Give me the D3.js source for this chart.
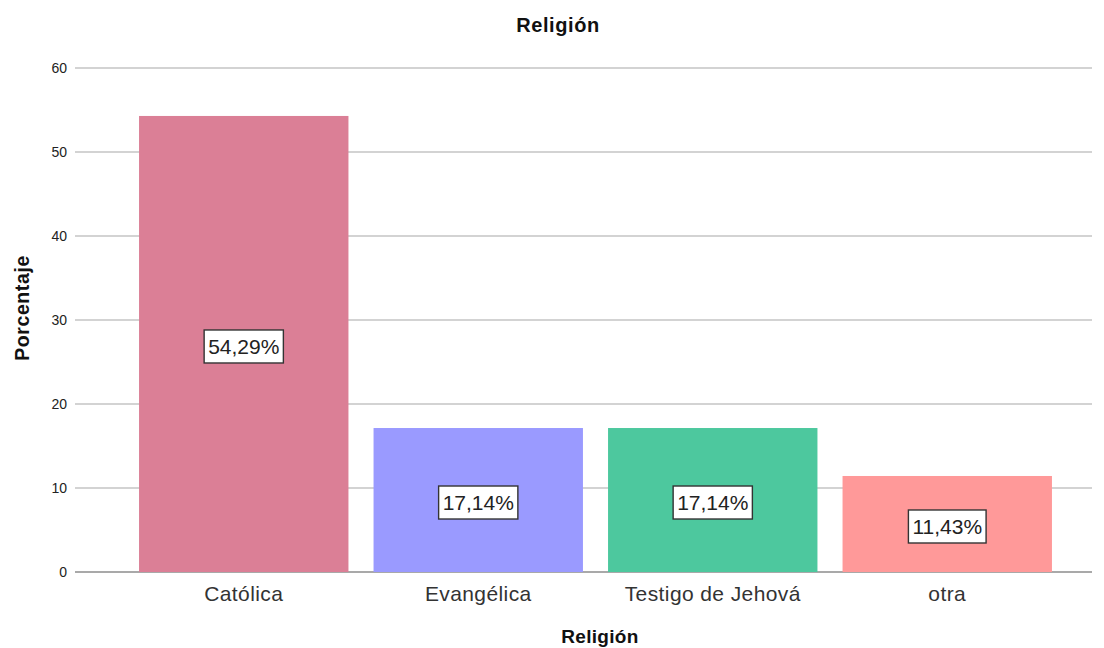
<!DOCTYPE html>
<html><head><meta charset="utf-8">
<script src="https://cdn.jsdelivr.net/npm/d3@7"></script>
<style>body{margin:0;background:#fff;}svg{display:block;font-family:Arial,"Liberation Sans",sans-serif;}</style>
</head><body><svg id="c" width="1104" height="648"></svg>
<script>
const categories = ["Católica","Evangélica","Testigo de Jehová","otra"];
const values = [54.29,17.14,17.14,11.43];
const labels = ["54,29%","17,14%","17,14%","11,43%"];
const colors = ["#db7f96","#9a9aff","#4dc89e","#ff9999"];
const yTicks = [0,10,20,30,40,50,60];

const svg = d3.select("#c");
const y = d3.scaleLinear().domain([0,60]).range([572,68]);
const x = d3.scaleBand().domain(categories).range([126.5,1064.5]).paddingInner(0.107).paddingOuter(0.0535);

// gridlines
svg.append("g").selectAll("line").data(yTicks.filter(d=>d>0)).join("line")
  .attr("x1",75).attr("x2",1092).attr("y1",d=>y(d)).attr("y2",d=>y(d))
  .attr("stroke","#d3d3d3").attr("stroke-width",2);
// baseline
svg.append("line").attr("x1",75).attr("x2",1092).attr("y1",y(0)).attr("y2",y(0))
  .attr("stroke","#555").attr("stroke-width",1.2);

// y tick labels
svg.append("g").selectAll("text").data(yTicks).join("text")
  .attr("x",67).attr("y",d=>y(d)).attr("dy","0.35em").attr("text-anchor","end")
  .attr("font-size",14).attr("fill","#222").text(d=>d);

// bars
svg.append("g").selectAll("rect").data(values).join("rect")
  .attr("x",(d,i)=>x(categories[i])).attr("width",x.bandwidth())
  .attr("y",d=>y(d)).attr("height",d=>y(0)-y(d))
  .attr("fill",(d,i)=>colors[i]);

// value labels
const lg = svg.append("g");
values.forEach((v,i)=>{
  const cx = x(categories[i]) + x.bandwidth()/2;
  const cy = (y(v)+y(0))/2 + 2.5;
  const t = lg.append("text").attr("x",cx).attr("y",cy).attr("dy","0.36em")
    .attr("text-anchor","middle").attr("font-size",21).attr("fill","#222").text(labels[i]);
  const bb = t.node().getBBox();
  lg.insert("rect","text").attr("x",cx-bb.width/2-4).attr("y",cy-16.5).attr("width",bb.width+8).attr("height",33)
    .attr("fill","#fff").attr("stroke","#333").attr("stroke-width",1.4);
});

// x tick labels
svg.append("g").selectAll("text").data(categories).join("text")
  .attr("x",d=>x(d)+x.bandwidth()/2).attr("y",601).attr("text-anchor","middle")
  .attr("font-size",21).attr("letter-spacing",0.4).attr("fill","#333").text(d=>d);

// titles
svg.append("text").attr("x",558).attr("y",32).attr("text-anchor","middle")
  .attr("font-size",20).attr("letter-spacing",0.6).attr("font-weight","bold").attr("fill","#111").text("Religión");
svg.append("text").attr("x",600).attr("y",643).attr("text-anchor","middle")
  .attr("font-size",19).attr("letter-spacing",0.3).attr("font-weight","bold").attr("fill","#111").text("Religión");
svg.append("text").attr("transform","translate(29,308) rotate(-90)").attr("text-anchor","middle")
  .attr("font-size",19.5).attr("letter-spacing",0.6).attr("font-weight","bold").attr("fill","#111").text("Porcentaje");
</script></body></html>
